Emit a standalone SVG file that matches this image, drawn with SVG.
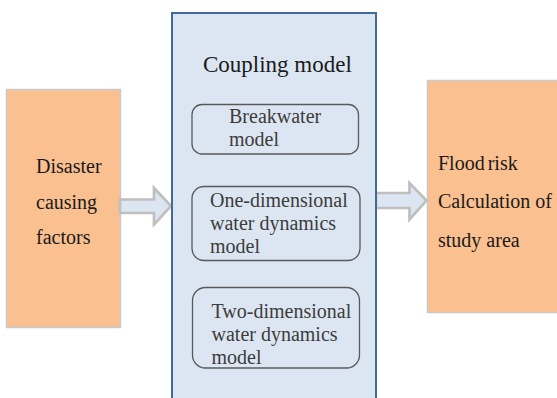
<svg xmlns="http://www.w3.org/2000/svg" width="557" height="398" viewBox="0 0 557 398">
  <style>
    text { font-family: "Liberation Serif", "DejaVu Serif", serif; font-size: 20px; }
    .txt { fill: #1a1a1a; }
    .sub { fill: #3c3c3c; }
    .title { font-size: 23px; fill: #1a1a1a; }
    .factor { fill: #FAC090; stroke: #C9C9C9; stroke-width: 1.5; }
    .frame { fill: #DCE6F2; stroke: #41699C; stroke-width: 2; }
    .part { fill: #DCE6F2; stroke: #595959; stroke-width: 1.3; }
    .flow { fill: #DCE6F2; stroke: #BFBFBF; stroke-width: 2.7; stroke-linejoin: miter; }
  </style>
  <rect width="557" height="398" fill="#ffffff"/>

  <!-- Input factors -->
  <g id="disaster-factors">
    <rect class="factor" x="6.5" y="89.5" width="114" height="238"/>
    <text class="txt" x="36" y="172.5" font-family="Liberation Serif">Disaster</text>
    <text class="txt" x="36" y="208.5" font-family="Liberation Serif">causing</text>
    <text class="txt" x="36" y="244" font-family="Liberation Serif">factors</text>
  </g>

  <!-- Output: flood risk -->
  <g id="flood-risk">
    <rect class="factor" x="427.5" y="80.5" width="140" height="232"/>
    <text class="txt" x="438" y="170" font-family="Liberation Serif" word-spacing="-2">Flood risk</text>
    <text class="txt" x="438" y="207.5" font-family="Liberation Serif">Calculation of</text>
    <text class="txt" x="438" y="246.5" font-family="Liberation Serif">study area</text>
  </g>

  <!-- Block arrows -->
  <g id="connectors">
    <path class="flow" d="M120,199.5 H154 V188 L171,206 L154,224.5 V213 H120 Z"/>
    <path class="flow" d="M376,193 H409.5 V183 L426.5,200.5 L409.5,219.5 V208 H376 Z"/>
  </g>

  <!-- Coupling model container -->
  <g id="coupling-model">
    <rect class="frame" x="172" y="13" width="204" height="400"/>
    <text class="txt title" x="203" y="72" font-family="Liberation Serif">Coupling model</text>
  </g>

  <g id="breakwater-model">
    <rect class="part" x="192" y="104.5" width="166.5" height="49.5" rx="10"/>
    <text class="sub" x="229" y="122.5" font-family="Liberation Serif">Breakwater</text>
    <text class="sub" x="229" y="146" font-family="Liberation Serif">model</text>
  </g>

  <g id="one-dimensional-model">
    <rect class="part" x="192" y="186.5" width="168" height="74" rx="12"/>
    <text class="sub" x="210" y="207" font-family="Liberation Serif">One-dimensional</text>
    <text class="sub" x="210" y="230" font-family="Liberation Serif">water dynamics</text>
    <text class="sub" x="210" y="253" font-family="Liberation Serif">model</text>
  </g>

  <g id="two-dimensional-model">
    <rect class="part" x="192.5" y="287.5" width="167" height="80.5" rx="13"/>
    <text class="sub" x="211.5" y="317.5" font-family="Liberation Serif">Two-dimensional</text>
    <text class="sub" x="211.5" y="340.5" font-family="Liberation Serif">water dynamics</text>
    <text class="sub" x="211.5" y="363.5" font-family="Liberation Serif">model</text>
  </g>
</svg>
